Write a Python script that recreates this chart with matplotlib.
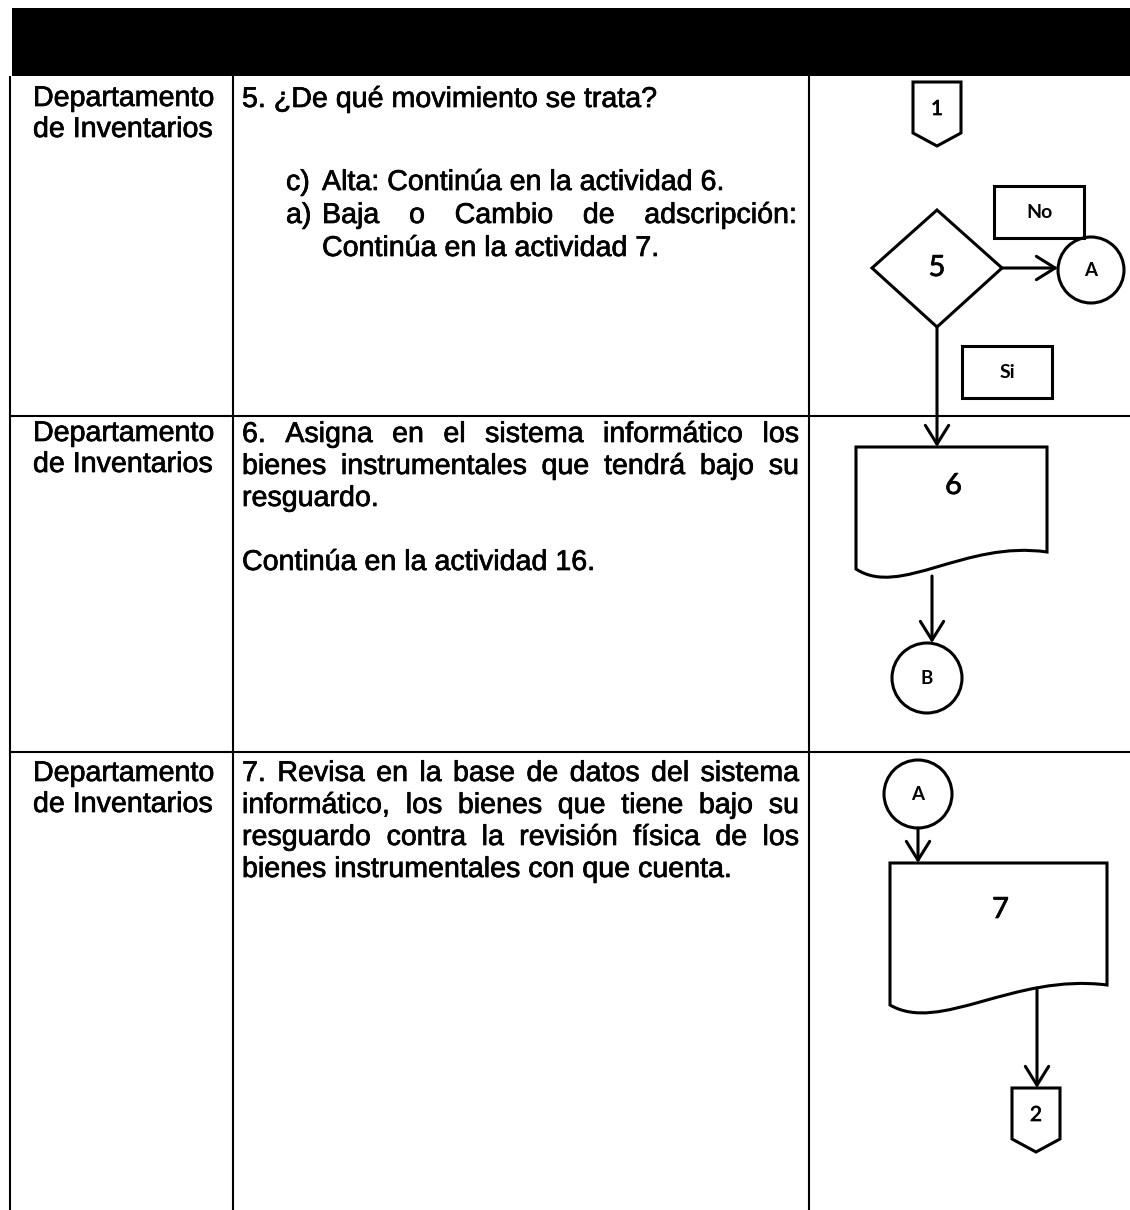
import matplotlib
matplotlib.use('Agg')
import matplotlib.pyplot as plt
import matplotlib.patheffects as pe
from matplotlib.patches import Rectangle, Polygon, Circle, PathPatch, ArrowStyle
from matplotlib.path import Path

# Table content
dept_lines = ['Departamento', 'de Inventarios']

row1_lines = ['5. ¿De qué movimiento se trata?']
row1_items = [('c)', 'Alta: Continúa en la actividad 6.'),
              ('a)', 'Baja o Cambio de adscripción:')]
row1_tail = 'Continúa en la actividad 7.'

row2_lines = ['6. Asigna en el sistema informático los',
              'bienes instrumentales que tendrá bajo su',
              'resguardo.', '',
              'Continúa en la actividad 16.']
row2_justify = [True, True, False, False, False]

row3_lines = ['7. Revisa en la base de datos del sistema',
              'informático, los bienes que tiene bajo su',
              'resguardo contra la revisión física de los',
              'bienes instrumentales con que cuenta.']
row3_justify = [True, True, True, False]

# Flowchart labels
step_labels = ['5', '6', '7']
connector_labels = ['1', '2', 'A', 'B']
branch_labels = ['No', 'Si']

W, H = 1130, 1210
fig = plt.figure(figsize=(W / 100, H / 100), dpi=100)
ax = fig.add_axes([0, 0, 1, 1])
ax.set_xlim(0, W)
ax.set_ylim(H, 0)
ax.axis('off')
renderer = fig.canvas.get_renderer()

# scanned text looks a bit heavier than plain Arial
ink = [pe.withStroke(linewidth=0.5, foreground='black')]
TXT = dict(family='Liberation Sans', fontsize=20.6, va='baseline', color='black',
           path_effects=ink)
SHP = dict(family='Lato', ha='center', va='center', color='black')
LW_T = 1.5
LW_S = 2.2

# header bar and grid
ax.add_patch(Rectangle((12, 8), W - 12, 68, color='black', lw=0))
x_left, x_c1, x_c2 = 10, 233, 809
y_rows = [76, 416, 752]
for x in (x_left, x_c1, x_c2):
    ax.plot([x, x], [76, H], color='black', lw=LW_T, solid_capstyle='butt')
for y in y_rows[1:]:
    ax.plot([x_left, W], [y, y], color='black', lw=LW_T)

# column 1
for y0 in (106, 441, 781):
    for i, s in enumerate(dept_lines):
        ax.text(33, y0 + i * 31, s, **TXT)


def text_line(s, x0, x1, y, justify):
    words = s.split()
    if not words:
        return
    if not justify:
        ax.text(x0, y, s, **TXT)
        return
    objs = [ax.text(0, y, w, **TXT) for w in words]
    widths = [o.get_window_extent(renderer).width for o in objs]
    gap = (x1 - x0 - sum(widths)) / (len(words) - 1)
    x = x0
    for o, w in zip(objs, widths):
        o.set_x(x)
        x += w + gap


tx0, tx1, lh = 242, 799, 32

# column 2, row 1
text_line(row1_lines[0], tx0, tx1, 107, False)
ys = [190, 223]
for (mark, body), y in zip(row1_items, ys):
    ax.text(286, y, mark, **TXT)
    text_line(body, 322, 797, y, body.startswith('Baja'))
text_line(row1_tail, 322, 797, 256, False)

# column 2, row 2 and row 3
for lines, just, y0 in ((row2_lines, row2_justify, 442), (row3_lines, row3_justify, 781)):
    for i, (s, j) in enumerate(zip(lines, just)):
        text_line(s, tx0, tx1, y0 + i * lh, j)

# flowchart shapes
arrow = ArrowStyle('->', head_length=0.45, head_width=0.28)


def arrow_line(p0, p1):
    ax.annotate('', xy=p1, xytext=p0,
                arrowprops=dict(arrowstyle=arrow, lw=LW_S, color='black',
                                shrinkA=0, shrinkB=0, mutation_scale=30))


def offpage(cx, top, label):
    pts = [(cx - 24, top), (cx + 24, top), (cx + 24, top + 51), (cx, top + 64), (cx - 24, top + 51)]
    ax.add_patch(Polygon(pts, closed=True, fill=False, lw=LW_S, joinstyle='miter'))
    ax.text(cx, top + 27, label, fontsize=15, path_effects=ink, **SHP)


def circle(cx, cy, r, label):
    ax.add_patch(Circle((cx, cy), r, fill=False, lw=LW_S))
    ax.text(cx, cy, label, fontsize=13.5, fontweight='bold', **SHP)


def box(x, y, w, h, label):
    ax.add_patch(Rectangle((x, y), w, h, fill=False, lw=LW_S))
    ax.text(x + w / 2, y + h / 2, label, fontsize=14, fontweight='bold', **SHP)


def document(x0, x1, top, yl, yr, label, ly):
    w = x1 - x0
    verts = [(x0, top), (x1, top), (x1, yr),
             (x1 - 0.43 * w, yr - 12), (x0 + 0.23 * w, yl + 29), (x0, yl),
             (x0, top)]
    codes = [Path.MOVETO, Path.LINETO, Path.LINETO,
             Path.CURVE4, Path.CURVE4, Path.CURVE4, Path.CLOSEPOLY]
    ax.add_patch(PathPatch(Path(verts, codes), fill=False, lw=LW_S, joinstyle='miter'))
    ax.text(x0 + w * 0.5 + 2, ly, label, fontsize=21, path_effects=ink, **SHP)


# row 1
offpage(937, 82, connector_labels[0])
ax.add_patch(Polygon([(937, 210), (1002, 268), (937, 327), (872, 268)],
                     closed=True, fill=False, lw=LW_S))
ax.text(937, 268, step_labels[0], fontsize=21, path_effects=ink, **SHP)
box(994, 186, 90, 52, branch_labels[0])
circle(1091, 270, 33, connector_labels[2])
arrow_line((1002, 268), (1058, 268))
box(962, 346, 90, 52, branch_labels[1])
arrow_line((937, 327), (937, 447))

# row 2
document(856, 1047, 447, 569, 552, step_labels[1], 486)
arrow_line((932, 576), (932, 643))
circle(927, 678, 35, connector_labels[3])

# row 3
circle(918, 794, 34, connector_labels[2])
arrow_line((918, 828), (918, 863))
document(890, 1107, 863, 1005, 985, step_labels[2], 910)
arrow_line((1037, 988), (1037, 1088))
offpage(1036, 1088, connector_labels[1])

fig.savefig('out.png', dpi=100)
